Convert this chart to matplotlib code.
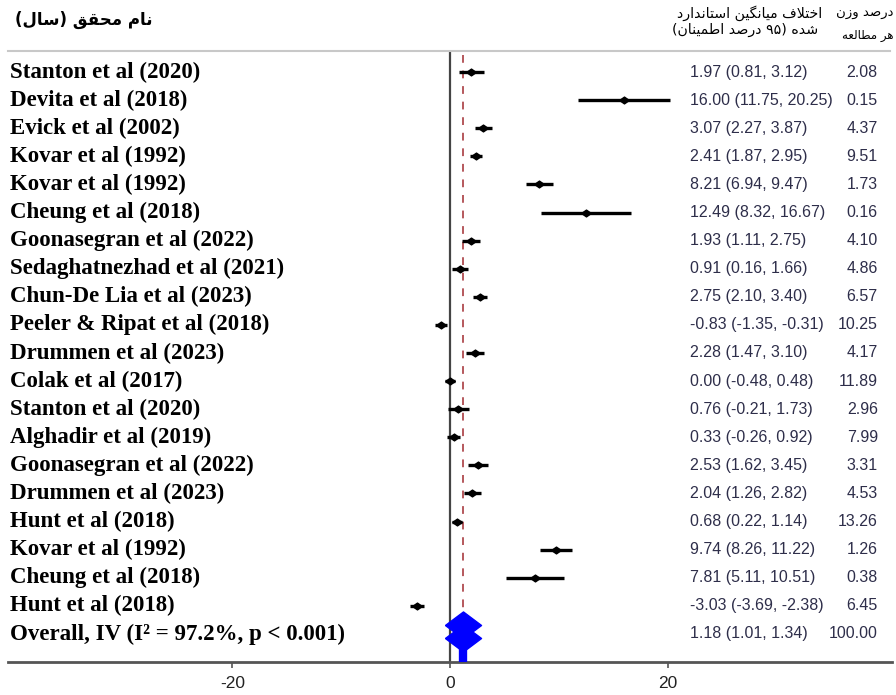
import matplotlib
matplotlib.use("Agg")
import matplotlib.pyplot as plt
from matplotlib.lines import Line2D

# ---- data ----
names = ["Stanton et al (2020)", "Devita et al (2018)", "Evick et al (2002)",
         "Kovar et al (1992)", "Kovar et al (1992)", "Cheung et al (2018)",
         "Goonasegran et al (2022)", "Sedaghatnezhad et al (2021)",
         "Chun-De Lia et al (2023)", "Peeler & Ripat et al (2018)",
         "Drummen et al (2023)", "Colak et al (2017)", "Stanton et al (2020)",
         "Alghadir et al (2019)", "Goonasegran et al (2022)",
         "Drummen et al (2023)", "Hunt et al (2018)", "Kovar et al (1992)",
         "Cheung et al (2018)", "Hunt et al (2018)"]
est = [1.97, 16.00, 3.07, 2.41, 8.21, 12.49, 1.93, 0.91, 2.75, -0.83,
       2.28, 0.00, 0.76, 0.33, 2.53, 2.04, 0.68, 9.74, 7.81, -3.03]
lo = [0.81, 11.75, 2.27, 1.87, 6.94, 8.32, 1.11, 0.16, 2.10, -1.35,
      1.47, -0.48, -0.21, -0.26, 1.62, 1.26, 0.22, 8.26, 5.11, -3.69]
hi = [3.12, 20.25, 3.87, 2.95, 9.47, 16.67, 2.75, 1.66, 3.40, -0.31,
      3.10, 0.48, 1.73, 0.92, 3.45, 2.82, 1.14, 11.22, 10.51, -2.38]
weights = [2.08, 0.15, 4.37, 9.51, 1.73, 0.16, 4.10, 4.86, 6.57, 10.25,
           4.17, 11.89, 2.96, 7.99, 3.31, 4.53, 13.26, 1.26, 0.38, 6.45]
overall_label = "Overall, IV (I² = 97.2%, p < 0.001)"
overall_est, overall_lo, overall_hi, overall_w = 1.18, 1.01, 1.34, 100.00
xticks = [-20, 0, 20]

# ---- tiny arabic/persian shaper (matplotlib has no text shaping) ----
FORMS = {
    "ا": (0xFE8D, 0xFE8E), "د": (0xFEA9, 0xFEAA), "ر": (0xFEAD, 0xFEAE),
    "ز": (0xFEAF, 0xFEB0), "و": (0xFEED, 0xFEEE),
    "ت": (0xFE95, 0xFE96, 0xFE97, 0xFE98), "ح": (0xFEA1, 0xFEA2, 0xFEA3, 0xFEA4),
    "خ": (0xFEA5, 0xFEA6, 0xFEA7, 0xFEA8), "س": (0xFEB1, 0xFEB2, 0xFEB3, 0xFEB4),
    "ش": (0xFEB5, 0xFEB6, 0xFEB7, 0xFEB8), "ص": (0xFEB9, 0xFEBA, 0xFEBB, 0xFEBC),
    "ط": (0xFEC1, 0xFEC2, 0xFEC3, 0xFEC4), "ع": (0xFEC9, 0xFECA, 0xFECB, 0xFECC),
    "ف": (0xFED1, 0xFED2, 0xFED3, 0xFED4), "ق": (0xFED5, 0xFED6, 0xFED7, 0xFED8),
    "ل": (0xFEDD, 0xFEDE, 0xFEDF, 0xFEE0), "م": (0xFEE1, 0xFEE2, 0xFEE3, 0xFEE4),
    "ن": (0xFEE5, 0xFEE6, 0xFEE7, 0xFEE8), "ه": (0xFEE9, 0xFEEA, 0xFEEB, 0xFEEC),
    "ی": (0xFBFC, 0xFBFD, 0xFBFE, 0xFBFF), "گ": (0xFB92, 0xFB93, 0xFB94, 0xFB95),
    "لا": (0xFEFB, 0xFEFC),
}


def shape(text):
    units = []
    i = 0
    while i < len(text):
        if text[i] == "ل" and i + 1 < len(text) and text[i + 1] == "ا":
            units.append("لا")
            i += 2
        else:
            units.append(text[i])
            i += 1
    out = []
    for k, u in enumerate(units):
        if u not in FORMS:
            out.append(u)
            continue
        prev = units[k - 1] if k > 0 else None
        nxt = units[k + 1] if k + 1 < len(units) else None
        join_prev = prev in FORMS and len(FORMS[prev]) == 4
        join_next = len(FORMS[u]) == 4 and nxt in FORMS
        f = FORMS[u]
        if join_prev and join_next:
            out.append(chr(f[3]))
        elif join_prev:
            out.append(chr(f[1]))
        elif join_next:
            out.append(chr(f[2]))
        else:
            out.append(chr(f[0]))
    # visual order: reverse, keep digit runs, mirror brackets
    vis = "".join(out)[::-1]
    mirror = {"(": ")", ")": "("}
    res, run = [], ""
    for ch in vis:
        if ch.isdigit():
            run += ch
            continue
        if run:
            res.append(run[::-1])
            run = ""
        res.append(mirror.get(ch, ch))
    if run:
        res.append(run[::-1])
    return "".join(res)


fig = plt.figure(figsize=(8.96, 6.95), dpi=100)
W, H = 896, 695
ax = fig.add_axes([8 / W, 1 - 662 / H, 884 / W, (662 - 51) / H])

n = len(est)
rows = list(range(n))
ax.set_xlim(-40.6, 40.6)
ax.set_ylim(21.0, -0.75)

# zero line and overall dashed line
ax.axvline(0, color="#444444", lw=1.6, zorder=2)
ax.vlines(overall_est, -0.6, n - 0.5, color="#b5585c", lw=1.4,
          linestyles=(0, (4, 4)), zorder=2)

# study estimates
pt = [(-1, 0), (0, 0.7), (1, 0), (0, -0.7), (-1, 0)]
for r, e, l, h in zip(rows, est, lo, hi):
    ax.plot([l, h], [r, r], color="black", lw=2.4, solid_capstyle="butt", zorder=3)
ax.plot(est, rows, linestyle="none", marker=pt, ms=7, color="black", zorder=4)

# overall diamond (drawn as in the reference)
dia = [(-1, 0), (0, 0.75), (1, 0), (0, -0.75), (-1, 0)]
ax.plot([overall_est, overall_est], [n - 0.32, n + 0.14], linestyle="none",
        marker=dia, ms=26, color="#0000ff", zorder=5)
ax.vlines(overall_est, n + 0.3, 21.0, color="#0000ff", lw=6, zorder=5)

# labels
ytr = ax.get_yaxis_transform()
for r, name in zip(rows, names):
    ax.text(2 / 884, r, name, transform=ytr,
            ha="left", va="center", fontsize=16.5, fontweight="bold",
            family="Liberation Serif", color="black")
ax.text(2 / 884, n, overall_label, transform=ytr,
        ha="left", va="center", fontsize=16.5, fontweight="bold",
        family="Liberation Serif", color="black")

num_color = "#2e2e4a"
for r, e, l, h, w in zip(rows, est, lo, hi, weights):
    ax.text(22.0, r, f"{e:.2f} ({l:.2f}, {h:.2f})", ha="left", va="center",
            fontsize=11.5, family="Liberation Sans", color=num_color)
    ax.text(39.3, r, f"{w:.2f}", ha="right", va="center",
            fontsize=11.5, family="Liberation Sans", color=num_color)
ax.text(22.0, n, f"{overall_est:.2f} ({overall_lo:.2f}, {overall_hi:.2f})",
        ha="left", va="center", fontsize=11.5, family="Liberation Sans", color=num_color)
ax.text(39.3, n, f"{overall_w:.2f}", ha="right", va="center",
        fontsize=11.5, family="Liberation Sans", color=num_color)

# axes styling
for s in ["top", "left", "right"]:
    ax.spines[s].set_visible(False)
ax.spines["bottom"].set_color("#555555")
ax.spines["bottom"].set_linewidth(2)
ax.set_yticks([])
ax.set_xticks(xticks)
ax.set_xticklabels([str(t) for t in xticks], family="Liberation Sans",
                   fontsize=12.5, color="#222222")
ax.tick_params(axis="x", length=4, width=1.2, color="#555555", pad=6)

# top separator line
fig.add_artist(Line2D([8 / W, 890 / W], [1 - 51 / H, 1 - 51 / H],
                      color="#c8c8c8", lw=1.5))

# persian headers
fig.text(15 / W, 1 - 20 / H, shape("نام محقق (سال)"), ha="left", va="center",
         fontsize=12, fontweight="bold", family="DejaVu Sans")
fig.text(822 / W, 1 - 13 / H, shape("اختلاف میانگین استاندارد"), ha="right",
         va="center", fontsize=10.2, family="DejaVu Sans")
fig.text(818 / W, 1 - 30 / H, shape("شده (۹۵ درصد اطمینان)"), ha="right",
         va="center", fontsize=10.2, family="DejaVu Sans")
fig.text(893 / W, 1 - 13 / H, shape("درصد وزن"), ha="right", va="center",
         fontsize=9.5, family="DejaVu Sans")
fig.text(893 / W, 1 - 35 / H, shape("هر مطالعه"), ha="right", va="center",
         fontsize=8.5, family="DejaVu Sans")

fig.savefig("out.png", dpi=100)
